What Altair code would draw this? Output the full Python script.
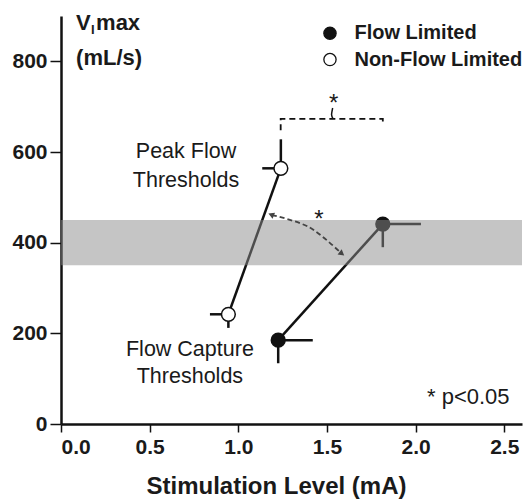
import altair as alt
import pandas as pd

FONT = "Liberation Sans"

# ---- data ----
series = ["Flow Limited", "Flow Limited", "Non-Flow Limited", "Non-Flow Limited"]
stim = [1.225, 1.815, 0.944, 1.24]
vimax = [185, 441, 242, 564]
# one-sided error bar ends
stim_err = [1.42, 2.03, 0.84, 1.135]
vimax_err = [134, 390, 212, 628]

band_lo, band_hi = 350, 450
x_ticks = [0.0, 0.5, 1.0, 1.5, 2.0, 2.5]
y_ticks = [0, 200, 400, 600, 800]

bracket_x = [1.239, 1.239, 1.815, 1.815]
bracket_y = [648, 673, 673, 660]
curl_x = [1.535, 1.526, 1.532]
curl_y = [673, 682, 697]
arrow_x = [1.19, 1.40, 1.58]
arrow_y = [461, 434, 377]
arrow_angle = [292, 128]

ann_text = ["Peak Flow", "Thresholds", "Flow Capture", "Thresholds"]
ann_x = [0.705, 0.705, 0.727, 0.727]
ann_y = [600, 536, 163, 103]

star_text = ["*", "*"]
star_x = [1.538, 1.455]
star_y = [705, 451]

leg_labels = ["Flow Limited", "Non-Flow Limited"]
leg_x = [1.517, 1.517]
leg_y = [862, 804]
leg_tx = [1.655, 1.655]

pts = pd.DataFrame({"series": series, "x": stim, "y": vimax,
                    "xe": stim_err, "ye": vimax_err})
xs = alt.Scale(domain=[0, 2.6], nice=False, zero=False)
ys = alt.Scale(domain=[0, 900], nice=False)
fill_scale = alt.Scale(domain=["Flow Limited", "Non-Flow Limited"], range=["#111111", "#ffffff"])

X = lambda f="x": alt.X(f"{f}:Q", scale=xs,
                      axis=alt.Axis(values=x_ticks, format=".1f", title="Stimulation Level (mA)",
                                    titleFont=FONT, titleFontSize=24, titleFontWeight="bold",
                                    titleColor="#1a1a1a", titleX=215, titleY=62,
                                    titleBaseline="middle", labelPadding=4, tickSize=8))
Y = lambda f="y": alt.Y(f"{f}:Q", scale=ys,
                      axis=alt.Axis(values=y_ticks, title=None, labelPadding=3, tickSize=11))

base = alt.Chart(pts)

conn = base.mark_line(color="#111111", strokeWidth=2.5).encode(
    x=X(), y=Y(), detail="series:N", order="x:Q")

hbars = base.mark_rule(color="#111111", strokeWidth=2.5).encode(
    x=X(), x2="xe:Q", y=Y())
vbars = base.mark_rule(color="#111111", strokeWidth=2.5).encode(
    x=X(), y=Y(), y2="ye:Q")

dots = base.mark_point(shape="circle", filled=True, size=190, stroke="#111111",
                       strokeWidth=1.5, opacity=1).encode(
    x=X(), y=Y(), fill=alt.Fill("series:N", scale=fill_scale, legend=None))

band = alt.Chart(pd.DataFrame({"x": [0], "x2": [2.6], "y": [band_lo], "y2": [band_hi]})).mark_rect(
    color="#8c8c8c", opacity=0.5).encode(x=X(), x2="x2:Q", y=Y(), y2="y2:Q")

bracket = alt.Chart(pd.DataFrame({"x": bracket_x, "y": bracket_y, "o": range(4)})).mark_line(
    color="#111111", strokeWidth=1.8, strokeDash=[6, 4]).encode(x=X(), y=Y(), order="o:Q")
curl = alt.Chart(pd.DataFrame({"x": curl_x, "y": curl_y, "o": range(3)})).mark_line(
    color="#111111", strokeWidth=1.5, interpolate="cardinal").encode(x=X(), y=Y(), order="o:Q")

arrow = alt.Chart(pd.DataFrame({"x": arrow_x, "y": arrow_y, "o": range(3)})).mark_line(
    color="#444444", strokeWidth=1.8, strokeDash=[5, 3], interpolate="cardinal").encode(
    x=X(), y=Y(), order="o:Q")
heads = alt.Chart(pd.DataFrame({"x": [arrow_x[0], arrow_x[-1]], "y": [arrow_y[0], arrow_y[-1]],
                                "a": arrow_angle})).mark_point(
    shape="triangle", filled=True, size=45, color="#444444", opacity=1).encode(
    x=X(), y=Y(), angle=alt.Angle("a:Q", scale=None))

ann = alt.Chart(pd.DataFrame({"x": ann_x, "y": ann_y, "t": ann_text})).mark_text(
    font=FONT, fontSize=21.5, color="#1a1a1a", align="center", baseline="middle").encode(
    x=X(), y=Y(), text="t:N")

stars = alt.Chart(pd.DataFrame({"x": star_x, "y": star_y, "t": star_text})).mark_text(
    font=FONT, fontSize=24, color="#1a1a1a", align="center", baseline="middle").encode(
    x=X(), y=Y(), text="t:N")

pval = alt.Chart(pd.DataFrame({"x": [2.53], "y": [60], "t": ["* p<0.05"]})).mark_text(
    font=FONT, fontSize=22, color="#1a1a1a", align="right", baseline="middle").encode(
    x=X(), y=Y(), text="t:N")

leg_df = pd.DataFrame({"series": leg_labels, "x": leg_x, "y": leg_y, "tx": leg_tx})
leg_pts = alt.Chart(leg_df).mark_point(shape="circle", filled=True, size=150, stroke="#111111",
                                       strokeWidth=1.3, opacity=1).encode(
    x=X(), y=Y(), fill=alt.Fill("series:N", scale=fill_scale, legend=None))
leg_txt = alt.Chart(leg_df).mark_text(font=FONT, fontSize=20, fontWeight="bold", color="#1a1a1a",
                                      align="left", baseline="middle").encode(
    x=X("tx"), y=Y(), text="series:N")

ytitle_df = pd.DataFrame({"x": [0.085], "y": [885]})
yt_V = alt.Chart(ytitle_df).mark_text(font=FONT, fontSize=22, fontWeight="bold", color="#1a1a1a",
                                      align="left", baseline="middle").encode(
    x=X(), y=Y(), text=alt.value("V"))
yt_I = alt.Chart(ytitle_df).mark_text(font=FONT, fontSize=13, fontWeight="bold", color="#1a1a1a",
                                      align="left", baseline="middle", dx=15, dy=7).encode(
    x=X(), y=Y(), text=alt.value("I"))
yt_max = alt.Chart(ytitle_df).mark_text(font=FONT, fontSize=22, fontWeight="bold", color="#1a1a1a",
                                        align="left", baseline="middle", dx=20).encode(
    x=X(), y=Y(), text=alt.value("max"))
yt_unit = alt.Chart(pd.DataFrame({"x": [0.085], "y": [808]})).mark_text(
    font=FONT, fontSize=22, fontWeight="bold", color="#1a1a1a", align="left", baseline="middle").encode(
    x=X(), y=Y(), text=alt.value("(mL/s)"))

chart = alt.layer(
    conn, hbars, vbars, dots, band, bracket, curl, arrow, heads, ann, stars, pval,
    leg_pts, leg_txt, yt_V, yt_I, yt_max, yt_unit
).properties(
    width=461, height=408,
    autosize=alt.AutoSizeParams(type="none"),
    padding={"left": 61, "top": 16, "right": 5, "bottom": 76},
    background="white",
).configure_view(stroke=None).configure_axis(
    domainColor="#111111", domainWidth=2.5, tickColor="#111111", tickWidth=1.5,
    labelFont=FONT, labelFontSize=21, labelFontWeight="bold", labelColor="#1a1a1a",
    grid=False, zindex=1,
)

chart.save("out.html", embed_options={"renderer": "svg", "actions": False})
